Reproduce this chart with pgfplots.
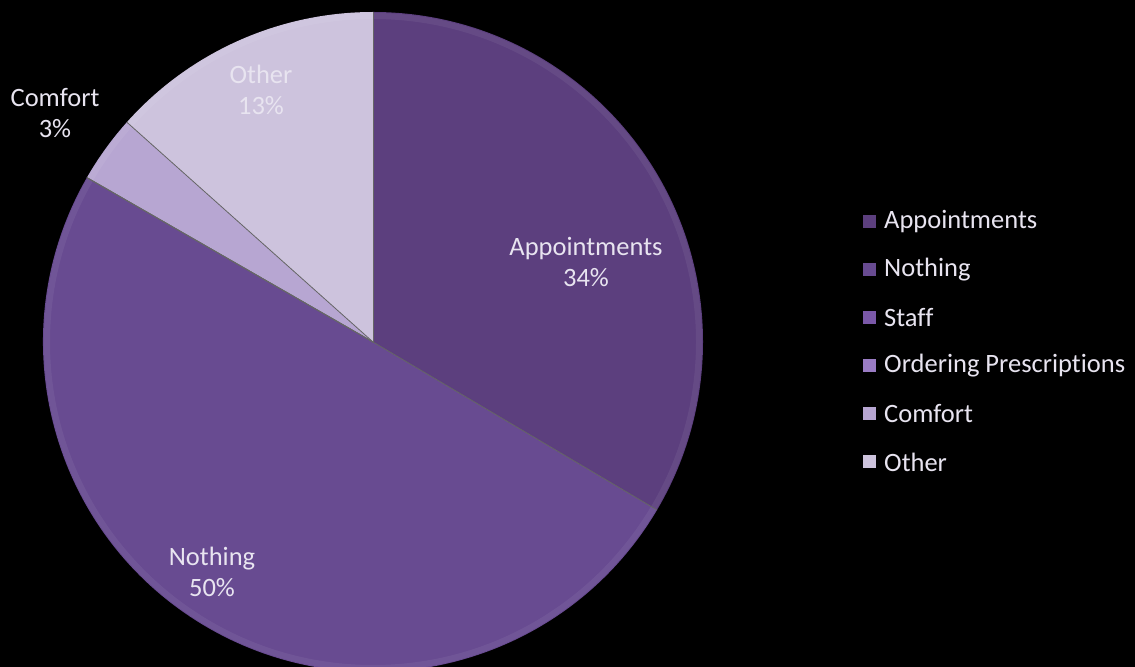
\documentclass[border=0pt]{standalone}
\usepackage{fontspec}
\setmainfont{Carlito}[Ligatures={NoCommon}]
\usepackage{pgfplots}
\usepackage{pgfplotstable}
\pgfplotsset{compat=1.18}
\definecolor{sA}{HTML}{5C3F7E}
\definecolor{sB}{HTML}{684B91}
\definecolor{sC}{HTML}{7A58A8}
\definecolor{sD}{HTML}{9A7CC4}
\definecolor{sE}{HTML}{B7A6D2}
\definecolor{sF}{HTML}{CDC3DD}
\definecolor{lbl}{HTML}{E8E4F0}
\pgfplotstableread[col sep=comma]{
name,value,pct,col,lx,ly,legy
Appointments,33.5,34,sA,586,405,445
Nothing,49.8,50,sB,212,95,397
Staff,0,0,sC,0,0,349
Ordering Prescriptions,0,0,sD,0,0,301
Comfort,3.3,3,sE,55,554,253
Other,13.4,13,sF,261,577,205
}\piedata
\begin{document}
\begin{tikzpicture}
\begin{axis}[scale only axis, width=1135bp, height=667bp,
  xmin=0, xmax=1135, ymin=0, ymax=667, hide axis]
\pgfplotsextra{
  \fill[black] (axis cs:0,0) rectangle (axis cs:1135,667);
  \def\cum{0}
  \pgfplotsforeachungrouped \i in {0,1,2,3,4,5}{%
    \pgfplotstablegetelem{\i}{value}\of\piedata \let\v\pgfplotsretval
    \pgfplotstablegetelem{\i}{col}\of\piedata \let\c\pgfplotsretval
    \pgfmathsetmacro\sa{90-\cum*3.6}%
    \pgfmathsetmacro\ea{90-(\cum+\v)*3.6}%
    \fill[\c] (axis cs:373,325) -- ++(\sa:330bp) arc[start angle=\sa, end angle=\ea, radius=330bp] -- cycle;
    \pgfmathsetmacro\cum{\cum+\v}%
  }
  \draw[white, opacity=0.06, line width=6bp] (axis cs:373,325) circle[radius=326bp];
  \def\cum{0}
  \pgfplotsforeachungrouped \i in {0,1,2,3,4,5}{%
    \pgfplotstablegetelem{\i}{value}\of\piedata \let\v\pgfplotsretval
    \pgfmathsetmacro\sa{90-\cum*3.6}%
    \draw[black!60, line width=0.8bp] (axis cs:373,325) -- ++(\sa:330bp);
    \pgfmathsetmacro\cum{\cum+\v}%
  }
  \pgfplotsforeachungrouped \i in {0,1,4,5}{%
    \pgfplotstablegetelem{\i}{pct}\of\piedata \let\p\pgfplotsretval
    \pgfplotstablegetelem{\i}{name}\of\piedata \let\n\pgfplotsretval
    \pgfplotstablegetelem{\i}{lx}\of\piedata \let\lx\pgfplotsretval
    \pgfplotstablegetelem{\i}{ly}\of\piedata \let\ly\pgfplotsretval
    \node[text=lbl, align=center, font=\fontsize{26.5bp}{31bp}\selectfont] at (axis cs:\lx,\ly) {\n\\\p\%};
  }
  \pgfplotsforeachungrouped \i in {0,1,2,3,4,5}{%
    \pgfplotstablegetelem{\i}{name}\of\piedata \let\n\pgfplotsretval
    \pgfplotstablegetelem{\i}{col}\of\piedata \let\c\pgfplotsretval
    \pgfplotstablegetelem{\i}{legy}\of\piedata \let\ly\pgfplotsretval
    \fill[\c] (axis cs:863,\ly-6.5) rectangle (axis cs:876,\ly+6.5);
    \node[text=lbl, anchor=west, inner sep=0pt, font=\fontsize{26.5bp}{31bp}\selectfont] at (axis cs:884,\ly) {\n};
  }
}
\end{axis}
\end{tikzpicture}
\end{document}
